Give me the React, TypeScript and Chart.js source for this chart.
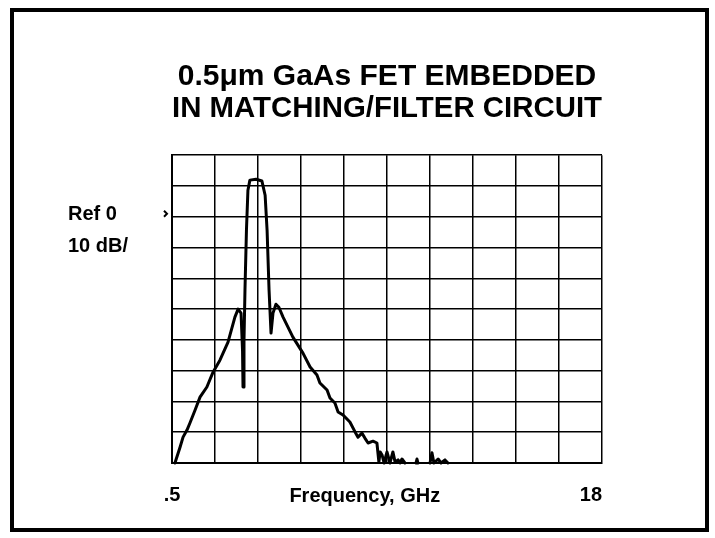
import { useEffect, useRef } from 'react';
import { Chart, registerables } from 'chart.js';

Chart.register(...registerables);

const titleLines = ['0.5μm GaAs FET EMBEDDED', 'IN MATCHING/FILTER CIRCUIT'];
const xAxisTitle = 'Frequency, GHz';
const refLabel = 'Ref 0';
const scaleLabel = '10 dB/';
const freqTicks = [0.5, 2.25, 4, 5.75, 7.5, 9.25, 11, 12.75, 14.5, 16.25, 18];
const freqTickLabels = ['.5', '', '', '', '', '', '', '', '', '', '18'];
const freqMin = 0.5;
const freqMax = 18;
const levelMin = -80;
const levelMax = 20;
const levelStep = 10;
const refLevel = 0;

const freqGHz = [
  0.62, 0.83, 0.95, 1.11, 1.23, 1.44, 1.64, 1.92, 2.17, 2.45, 2.78, 3.06, 3.19, 3.31, 3.37, 3.39,
  3.43, 3.47, 3.53, 3.59, 3.67, 3.92, 4.16, 4.29, 4.37, 4.45, 4.53, 4.61, 4.73, 4.85, 5.02, 5.42,
  5.83, 6.12, 6.4, 6.52, 6.81, 6.93, 7.13, 7.26, 7.46, 7.74, 7.95, 8.07, 8.23, 8.35, 8.48, 8.68,
  8.84, 8.92, 8.97, 9.05, 9.13, 9.25, 9.37, 9.49, 9.58, 9.7, 9.78, 9.86, 9.98, 10.2, 10.43, 10.47,
  10.51, 10.75, 11.0, 11.08, 11.16, 11.33, 11.45, 11.61, 11.73,
];
const levelDb = [
  -80, -74.8, -71.6, -69.3, -67.0, -62.8, -58.6, -55.3, -50.5, -46.6, -40.7, -32.6, -30.0, -31.3, -43.3, -55.3,
  -40.1, -23.8, -4.4, 8.6, 11.9, 12.2, 11.6, 7.0, -4.4, -23.8, -37.8, -31.3, -28.4, -29.4, -32.6, -39.1,
  -44.3, -48.8, -51.4, -54.0, -56.3, -58.9, -60.5, -63.4, -64.4, -66.7, -69.9, -71.6, -70.3, -71.9, -73.5, -72.9,
  -73.5, -79.7, -76.4, -77.4, -80, -76.4, -80, -76.4, -79.7, -79.0, -80, -78.7, -80, null, -80, -78.7,
  -80, null, -80, -76.7, -80, -78.7, -80, -79.0, -80,
];

const FONT = '"Liberation Sans", Arial, Helvetica, sans-serif';

const overlayPlugin = {
  id: 'overlay',
  afterDraw(chart: any) {
    const { ctx, scales, chartArea } = chart;
    const refY = scales.y.getPixelForValue(refLevel);
    ctx.save();
    // outer frame
    ctx.strokeStyle = '#000';
    ctx.lineWidth = 4;
    ctx.strokeRect(12, 10, 695, 520);
    // reference labels
    ctx.fillStyle = '#000';
    ctx.font = `bold 20px ${FONT}`;
    ctx.textAlign = 'left';
    ctx.textBaseline = 'middle';
    ctx.fillText(refLabel, 68, refY - 2);
    ctx.fillText(scaleLabel, 68, refY + 30);
    // reference marker
    const mx = chartArea.left - 6;
    ctx.lineWidth = 2;
    ctx.beginPath();
    ctx.moveTo(mx - 2, refY - 6);
    ctx.lineTo(mx + 1, refY - 3);
    ctx.lineTo(mx - 2, refY);
    ctx.stroke();
    ctx.restore();
  },
};

export default function App() {
  const canvasRef = useRef<HTMLCanvasElement | null>(null);

  useEffect(() => {
    if (!canvasRef.current) return;
    const points = freqGHz.map((f, i) => ({ x: f, y: levelDb[i] }));
    const chart = new Chart(canvasRef.current, {
      type: 'line',
      data: {
        datasets: [
          {
            data: points as any,
            borderColor: '#000',
            borderWidth: 3,
            borderJoinStyle: 'round',
            borderCapStyle: 'round',
            pointRadius: 0,
            tension: 0,
            spanGaps: false,
            clip: 3,
          },
        ],
      },
      plugins: [overlayPlugin],
      options: {
        animation: false,
        responsive: false,
        devicePixelRatio: 1,
        layout: { padding: { left: 172, right: 113, top: 0, bottom: 0 } },
        plugins: {
          legend: { display: false },
          tooltip: { enabled: false },
          title: {
            display: true,
            text: titleLines,
            color: '#000',
            font: { family: FONT, weight: 'bold', size: 30, lineHeight: 1.07 },
            padding: { top: 61, bottom: 30 },
          },
        },
        scales: {
          x: {
            type: 'linear',
            min: freqMin,
            max: freqMax,
            afterBuildTicks: (s: any) => {
              s.ticks = freqTicks.map((v) => ({ value: v }));
            },
            afterFit: (s: any) => {
              s.height = 75;
            },
            ticks: {
              autoSkip: false,
              maxRotation: 0,
              padding: 20,
              color: '#000',
              font: { family: FONT, weight: 'bold', size: 20 },
              callback: (_v: any, i: number) =>
                i === freqTicks.length - 1 ? freqTickLabels[i] + '\u00a0\u00a0\u00a0\u00a0' : freqTickLabels[i],
            },
            grid: { color: '#000', lineWidth: 1.5, drawTicks: false },
            border: { color: '#000', width: 2 },
            title: {
              display: true,
              text: xAxisTitle + '\u00a0\u00a0\u00a0\u00a0\u00a0\u00a0\u00a0\u00a0',
              color: '#000',
              font: { family: FONT, weight: 'bold', size: 20, lineHeight: 1.2 },
              padding: { top: 0, bottom: 30 },
            },
          },
          y: {
            type: 'linear',
            min: levelMin,
            max: levelMax,
            ticks: { display: false, stepSize: levelStep },
            afterFit: (s: any) => {
              s.width = 0;
            },
            grid: { color: '#000', lineWidth: 1.5, drawTicks: false },
            border: { color: '#000', width: 2 },
          },
        },
      },
    });
    return () => chart.destroy();
  }, []);

  return (
    <div style={{ position: 'fixed', left: 0, top: 0, width: 715, height: 538, background: '#fff' }}>
      <canvas ref={canvasRef} width={715} height={538} style={{ display: 'block' }} />
    </div>
  );
}
